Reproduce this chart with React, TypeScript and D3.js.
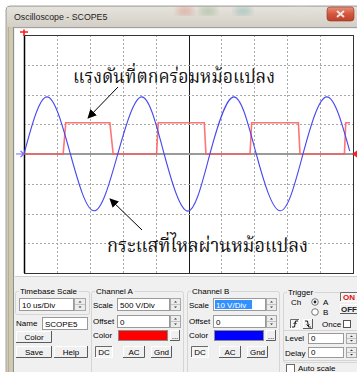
import React, { useEffect } from 'react'
import * as d3 from 'd3'

// Channel B (blue): current through the transformer, read at peaks / troughs / zero crossings
const blueTime = [0, 7.0, 14.1, 21.3, 28.5, 35.8, 42.6, 49.8, 56.5, 63.8, 70.6, 77.9, 84.8, 92.0, 99.0]
const blueVolt = [0, 19.2, 0, -19.1, 0, 19.2, 0, -19.2, 0, 19.2, 0, -19.1, 0, 19.2, 1.0]

// Channel A (red): voltage across the transformer, a square wave (edge start / edge end, us)
const redLevel = 525
const redEdges = [[11.9, 12.7], [26.1, 27.1], [40.3, 40.8], [54.8, 55.3], [68.7, 69.2], [83.4, 83.9], [97.4, 97.8]]
const redEnd = 99.1

const timebase = 10 // us/Div
const scaleA = 500 // V/Div
const scaleB = 10 // V/Div
const divsX = 10
const divsY = 8

const labelVoltage = 'แรงดันที่ตกคร่อมหม้อแปลง'
const labelCurrent = 'กระแสที่ไหลผ่านหม้อแปลง'

const UI = "'Liberation Sans', Arial, sans-serif"
const THAI = "'Noto Serif Thai', 'Noto Sans Thai', 'Liberation Serif', 'DejaVu Serif', serif"

export default function App() {
	const W = 357
	const H = 372
	const plot = { left: 24, right: 353, top: 35, bottom: 273 }

	useEffect(() => {
		drawChart()
	// eslint-disable-next-line react-hooks/exhaustive-deps
	}, [])

	const drawChart = () => {
		d3.select('#scope').select('svg').remove()

		const svg = d3.select('#scope')
			.append('svg')
			.attr('width', W)
			.attr('height', H)
			.style('display', 'block')

		const defs = svg.append('defs')
		const tg = defs.append('linearGradient').attr('id', 'titlebar').attr('x1', 0).attr('x2', 0).attr('y1', 0).attr('y2', 1)
		tg.append('stop').attr('offset', 0).attr('stop-color', '#e6e3dc')
		tg.append('stop').attr('offset', 1).attr('stop-color', '#d3cfc6')
		const cg = defs.append('linearGradient').attr('id', 'closebtn').attr('x1', 0).attr('x2', 0).attr('y1', 0).attr('y2', 1)
		cg.append('stop').attr('offset', 0).attr('stop-color', '#e8907c')
		cg.append('stop').attr('offset', 0.5).attr('stop-color', '#d2573d')
		cg.append('stop').attr('offset', 1).attr('stop-color', '#c0402a')
		defs.append('filter').attr('id', 'blur').append('feGaussianBlur').attr('stdDeviation', 3)
		defs.append('marker').attr('id', 'arrowhead')
			.attr('viewBox', '0 0 10 10').attr('refX', 9).attr('refY', 5)
			.attr('markerWidth', 9).attr('markerHeight', 9).attr('markerUnits', 'userSpaceOnUse')
			.attr('orient', 'auto')
			.append('path').attr('d', 'M0,0 L10,5 L0,10 z').attr('fill', '#000')

		// page + window frame
		svg.append('rect').attr('width', W).attr('height', H).attr('fill', '#fff')
		svg.append('rect').attr('x', 6).attr('y', 6).attr('width', W).attr('height', H)
			.attr('rx', 4).attr('fill', '#d9d4c6').attr('stroke', '#8d8d8d').attr('stroke-width', 0.8)
		svg.append('rect').attr('x', 7).attr('y', 7).attr('width', W).attr('height', 20).attr('fill', 'url(#titlebar)')
		// blurred aero colours in the title bar
		const blobs = [[185, '#d98a80'], [208, '#8fb08a'], [243, '#7fb3ad'], [300, '#e0ddd6']]
		blobs.forEach(([bx, c]) => {
			svg.append('ellipse').attr('cx', bx as number).attr('cy', 11).attr('rx', 9).attr('ry', 4)
				.attr('fill', c as string).attr('opacity', 0.55).attr('filter', 'url(#blur)')
		})
		svg.append('rect').attr('x', 7).attr('y', 27).attr('width', 7).attr('height', H).attr('fill', '#cfc8b2')
		svg.append('line').attr('x1', 8.5).attr('x2', 8.5).attr('y1', 27).attr('y2', H).attr('stroke', '#b8ae92')
		svg.append('text').attr('x', 14).attr('y', 19.5).text('Oscilloscope - SCOPE5')
			.style('font-family', UI).style('font-size', '8.8px').style('fill', '#1e1e1e')
		svg.append('rect').attr('x', 327).attr('y', 7).attr('width', 27).attr('height', 14).attr('rx', 3)
			.attr('fill', 'url(#closebtn)').attr('stroke', '#8a3a2a').attr('stroke-width', 0.6)
		svg.append('path').attr('d', 'M337,11 L344,17 M344,11 L337,17')
			.attr('stroke', '#f2e6e2').attr('stroke-width', 2)

		// client area
		svg.append('rect').attr('x', 14).attr('y', 27).attr('width', W).attr('height', H).attr('fill', '#f0f0f0')
		svg.append('line').attr('x1', 14).attr('x2', W).attr('y1', 27.5).attr('y2', 27.5).attr('stroke', '#a0a0a0')
		svg.append('line').attr('x1', 13.5).attr('x2', 13.5).attr('y1', 27).attr('y2', H).attr('stroke', '#8f8f8f')
		svg.append('rect').attr('x', 15).attr('y', 29).attr('width', W - 15).attr('height', 247).attr('fill', '#fff')
		svg.append('line').attr('x1', 15).attr('x2', W).attr('y1', 276.5).attr('y2', 276.5).attr('stroke', '#d0d0d0')

		// scales
		const x = d3.scaleLinear().domain([0, timebase * divsX]).range([plot.left, plot.right])
		const yA = d3.scaleLinear().domain([-scaleA * divsY / 2, scaleA * divsY / 2]).range([plot.bottom, plot.top])
		const yB = d3.scaleLinear().domain([-scaleB * divsY / 2, scaleB * divsY / 2]).range([plot.bottom, plot.top])
		const yDiv = d3.scaleLinear().domain([0, divsY]).range([plot.bottom, plot.top])

		// grid
		const grid = svg.append('g')
		d3.range(1, divsX).forEach((i) => {
			const gx = Math.round(x(i * timebase)) + 0.5
			grid.append('line').attr('x1', gx).attr('x2', gx).attr('y1', plot.top).attr('y2', plot.bottom)
				.attr('stroke', i === divsX / 2 ? '#1a1a1a' : '#a9a9a9')
				.attr('stroke-dasharray', i === divsX / 2 ? null : '2,2')
		})
		d3.range(1, divsY).forEach((j) => {
			if (j === divsY / 2) return
			const gy = Math.round(yDiv(j)) + 0.5
			grid.append('line').attr('x1', plot.left).attr('x2', plot.right).attr('y1', gy).attr('y2', gy)
				.attr('stroke', '#a9a9a9').attr('stroke-dasharray', '2,2')
		})
		grid.append('line').attr('x1', plot.left).attr('x2', plot.right).attr('y1', yDiv(divsY / 2)).attr('y2', yDiv(divsY / 2))
			.attr('stroke', '#9a9a9a').attr('stroke-width', 2)
		grid.append('rect').attr('x', plot.left + 0.5).attr('y', plot.top + 0.5)
			.attr('width', plot.right - plot.left).attr('height', plot.bottom - plot.top)
			.attr('fill', 'none').attr('stroke', '#333').attr('stroke-width', 1)
		grid.append('line').attr('x1', plot.left + 0.5).attr('x2', plot.left + 0.5).attr('y1', plot.top).attr('y2', plot.bottom)
			.attr('stroke', '#000').attr('stroke-width', 1.5)

		// traces
		const redPts: [number, number][] = [[0, 0]]
		redEdges.forEach(([a, b], i) => {
			const rising = i % 2 === 0
			redPts.push([a, rising ? 0 : redLevel])
			redPts.push([b, rising ? redLevel : 0])
		})
		redPts.push([redEnd, redEdges.length % 2 === 1 ? redLevel : 0])

		svg.append('path')
			.attr('d', d3.line<[number, number]>().x((d) => x(d[0])).y((d) => yA(d[1]))(redPts))
			.attr('fill', 'none').attr('stroke', '#ff5c5c').attr('stroke-opacity', 0.85).attr('stroke-width', 1.6)

		const bluePts = blueTime.map((t, i) => [t, blueVolt[i]] as [number, number])
		svg.append('path')
			.attr('d', d3.line<[number, number]>().curve(d3.curveNatural).x((d) => x(d[0])).y((d) => yB(d[1]))(bluePts))
			.attr('fill', 'none').attr('stroke', '#4848f0').attr('stroke-width', 1.1)

		// channel / trigger markers
		const y0 = yA(0)
		svg.append('path').attr('d', `M16,${y0} L24,${y0} M20.5,${y0 - 3} L24,${y0} L20.5,${y0 + 3}`)
			.attr('fill', 'none').attr('stroke', '#7070ff').attr('stroke-width', 1.2)
		svg.append('path').attr('d', `M352,${y0} L357,${y0 - 3.5} L357,${y0 + 3.5} z`).attr('fill', '#ff2020')
		svg.append('path').attr('d', `M20,32 L28,32 M24,29.5 L24,36`).attr('stroke', '#ff1a1a').attr('stroke-width', 1.6)

		// annotations
		svg.append('text').attr('x', 73).attr('y', 83).text(labelVoltage)
			.attr('textLength', 202).attr('lengthAdjust', 'spacingAndGlyphs')
			.style('font-family', THAI).style('font-size', '19px').style('fill', '#111')
		svg.append('line').attr('x1', 118).attr('y1', 87).attr('x2', 88).attr('y2', 118)
			.attr('stroke', '#000').attr('stroke-width', 1).attr('marker-end', 'url(#arrowhead)')
		svg.append('text').attr('x', 107).attr('y', 252).text(labelCurrent)
			.attr('textLength', 201).attr('lengthAdjust', 'spacingAndGlyphs')
			.style('font-family', THAI).style('font-size', '19px').style('fill', '#111')
		svg.append('line').attr('x1', 142).attr('y1', 230).attr('x2', 110).attr('y2', 199)
			.attr('stroke', '#000').attr('stroke-width', 1).attr('marker-end', 'url(#arrowhead)')

		// control panel
		const panel = svg.append('g')
		const label = (px: number, py: number, s: string, color = '#000', weight = 'normal') =>
			panel.append('text').attr('x', px).attr('y', py).text(s)
				.style('font-family', UI).style('font-size', '8px').style('fill', color).style('font-weight', weight)
		const group = (gx: number, gy: number, gw: number, gh: number, title: string) => {
			panel.append('rect').attr('x', gx + 0.5).attr('y', gy + 0.5).attr('width', gw).attr('height', gh)
				.attr('rx', 2).attr('fill', 'none').attr('stroke', '#d5d5d5')
			const t = label(gx + 5, gy + 3, title)
			const bb = (t.node() as SVGTextElement).getBBox()
			panel.insert('rect', () => t.node()).attr('x', bb.x - 1).attr('y', gy - 2).attr('width', bb.width + 2).attr('height', 5).attr('fill', '#f0f0f0')
		}
		const input = (ix: number, iy: number, iw: number, ih: number, s: string) => {
			panel.append('rect').attr('x', ix + 0.5).attr('y', iy + 0.5).attr('width', iw).attr('height', ih)
				.attr('fill', '#fff').attr('stroke', '#9a9a9a')
			label(ix + 3, iy + ih - 2.5, s)
		}
		const spinner = (sx: number, sy: number, sw: number, sh: number) => {
			panel.append('rect').attr('x', sx + 0.5).attr('y', sy + 0.5).attr('width', sw).attr('height', sh)
				.attr('fill', '#ececec').attr('stroke', '#a8a8a8')
			panel.append('line').attr('x1', sx + 1).attr('x2', sx + sw).attr('y1', sy + sh / 2 + 0.5).attr('y2', sy + sh / 2 + 0.5).attr('stroke', '#c4c4c4')
			const cx = sx + sw / 2 + 0.5
			panel.append('path').attr('d', `M${cx - 1.5},${sy + sh / 4 + 1.5} L${cx + 1.5},${sy + sh / 4 + 1.5} L${cx},${sy + sh / 4} z`).attr('fill', '#333')
			panel.append('path').attr('d', `M${cx - 1.5},${sy + sh * 3 / 4 - 0.5} L${cx + 1.5},${sy + sh * 3 / 4 - 0.5} L${cx},${sy + sh * 3 / 4 + 1} z`).attr('fill', '#333')
		}
		const button = (bx: number, by: number, bw: number, bh: number, s: string, pressed = false, color = '#000', weight = 'normal') => {
			panel.append('rect').attr('x', bx).attr('y', by).attr('width', bw).attr('height', bh).attr('fill', pressed ? '#f4f4f4' : '#f0f0f0')
			panel.append('path').attr('d', `M${bx + 0.5},${by + bh} L${bx + 0.5},${by + 0.5} L${bx + bw},${by + 0.5}`)
				.attr('fill', 'none').attr('stroke', pressed ? '#6a6a6a' : '#fff')
			panel.append('path').attr('d', `M${bx},${by + bh - 0.5} L${bx + bw - 0.5},${by + bh - 0.5} L${bx + bw - 0.5},${by}`)
				.attr('fill', 'none').attr('stroke', pressed ? '#fff' : '#5a5a5a')
			if (s) {
				label(bx + bw / 2, by + bh / 2 + 3, s, color, weight).attr('text-anchor', 'middle')
			}
		}
		const swatch = (sx: number, sy: number, sw: number, sh: number, c: string) =>
			panel.append('rect').attr('x', sx + 0.5).attr('y', sy + 0.5).attr('width', sw).attr('height', sh)
				.attr('fill', c).attr('stroke', '#8a8a8a')

		// timebase
		group(15, 291, 74, 23, 'Timebase Scale')
		input(19, 298, 54, 12, `${timebase} us/Div`)
		spinner(74, 298, 11, 12)
		label(16, 326, 'Name')
		input(42, 317, 45, 12, 'SCOPE5')
		button(16, 331, 36, 12, 'Color')
		button(16, 346, 36, 12, 'Save')
		button(54, 346, 34, 12, 'Help')

		// channel A and channel B
		const channels = [
			{ name: 'Channel A', dx: 0, scale: `${scaleA}  V/Div`, color: '#ff0000', selected: false },
			{ name: 'Channel B', dx: 96, scale: `${scaleB}  V/Div`, color: '#0000ff', selected: true },
		]
		channels.forEach((ch) => {
			const ox = 91 + ch.dx
			group(ox, 291, 92, 90, ch.name)
			label(ox + 2, 308, 'Scale')
			if (ch.selected) {
				panel.append('rect').attr('x', ox + 26.5).attr('y', 298.5).attr('width', 52).attr('height', 12).attr('fill', '#fff').attr('stroke', '#9a9a9a')
				panel.append('rect').attr('x', ox + 28).attr('y', 300).attr('width', 37).attr('height', 9).attr('fill', '#3390ff')
				label(ox + 29, 307.5, ch.scale, '#fff')
			} else {
				input(ox + 26, 298, 52, 12, ch.scale)
			}
			spinner(ox + 79, 298, 10, 12)
			label(ox + 2, 324, 'Offset')
			input(ox + 26, 315, 52, 12, '0')
			spinner(ox + 79, 315, 10, 12)
			label(ox + 2, 338, 'Color')
			swatch(ox + 27, 330, 49, 10, ch.color)
			button(ox + 79, 330, 10, 11, '...')
			button(ox + 4, 346, 18, 12, 'DC', true)
			button(ox + 32, 346, 22, 12, 'AC')
			button(ox + 60, 346, 21, 12, 'Gnd')
		})

		// trigger
		group(283, 292, 80, 70, 'Trigger')
		label(291, 305, 'Ch')
		panel.append('circle').attr('cx', 315).attr('cy', 302).attr('r', 3.3).attr('fill', '#fff').attr('stroke', '#777')
		panel.append('circle').attr('cx', 315).attr('cy', 302).attr('r', 1.4).attr('fill', '#222')
		label(323, 305, 'A')
		panel.append('circle').attr('cx', 315).attr('cy', 312).attr('r', 3.3).attr('fill', '#fff').attr('stroke', '#777')
		label(323, 315, 'B')
		button(340, 292, 18, 10, 'ON', true, '#e01010', 'bold')
		button(340, 304, 18, 10, 'OFF', false, '#222', 'bold')
		button(290, 319, 10, 10, '', true)
		panel.append('path').attr('d', 'M292,327 L294.5,327 L295.5,321 L298,321 M293.5,324 L295,322.5 L296.5,324')
			.attr('fill', 'none').attr('stroke', '#000').attr('stroke-width', 0.9)
		button(303, 319, 10, 10, '')
		panel.append('path').attr('d', 'M305,321 L307.5,321 L308.5,327 L311,327 M306.5,324.5 L308,326 L309.5,324.5')
			.attr('fill', 'none').attr('stroke', '#000').attr('stroke-width', 0.9)
		label(322, 327, 'Once')
		panel.append('rect').attr('x', 343.5).attr('y', 320.5).attr('width', 7).attr('height', 7).attr('fill', '#fff').attr('stroke', '#555')
		panel.append('rect').attr('x', 283.5).attr('y', 330.5).attr('width', 80).attr('height', 30).attr('fill', 'none').attr('stroke', '#d5d5d5')
		label(285, 341, 'Level')
		input(308, 333, 35, 10, '0')
		spinner(346, 333, 10, 10)
		label(285, 356, 'Delay')
		input(308, 347, 35, 10, '0')
		spinner(346, 347, 10, 10)
		panel.append('rect').attr('x', 286.5).attr('y', 364.5).attr('width', 8).attr('height', 8).attr('fill', '#fff').attr('stroke', '#666')
		label(298, 371, 'Auto scale')
	}

	return (
		<div id="scope" style={{ position: 'fixed', left: 0, top: 0 }} />
	)
}
